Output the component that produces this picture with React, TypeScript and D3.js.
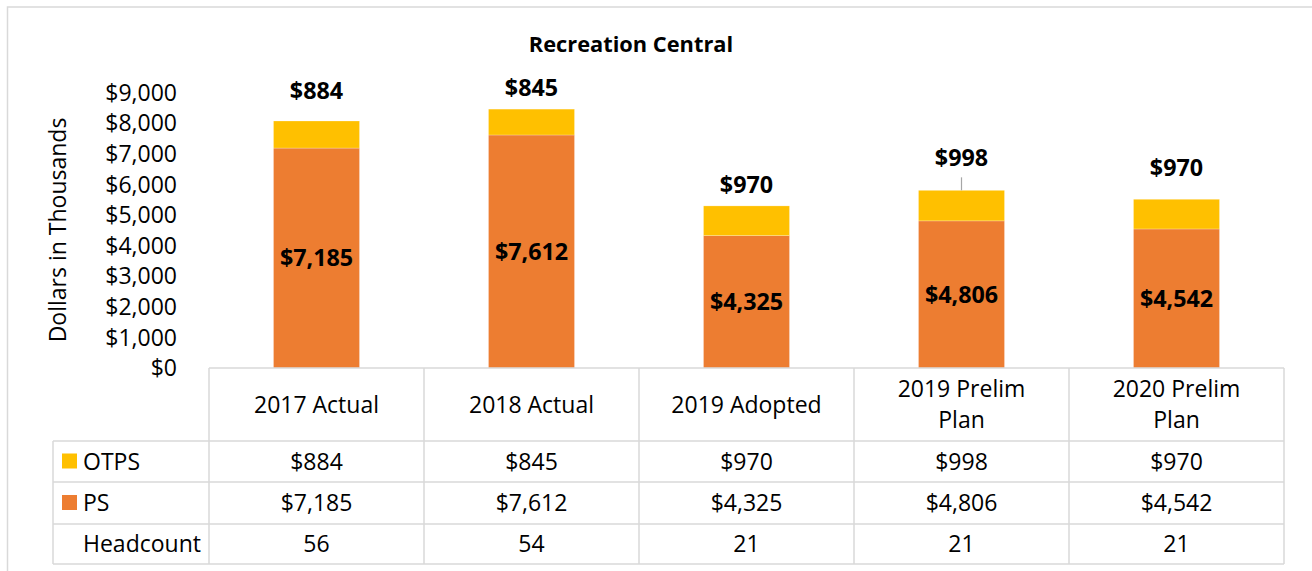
import React from "react";
import * as d3 from "d3";

const categories = ["2017 Actual", "2018 Actual", "2019 Adopted", "2019 Prelim Plan", "2020 Prelim Plan"];
const categoryLines = [["2017 Actual"], ["2018 Actual"], ["2019 Adopted"], ["2019 Prelim", "Plan"], ["2020 Prelim", "Plan"]];
const otpsValues = [884, 845, 970, 998, 970];
const psValues = [7185, 7612, 4325, 4806, 4542];
const headcountValues = [56, 54, 21, 21, 21];
const yTickValues = [0, 1000, 2000, 3000, 4000, 5000, 6000, 7000, 8000, 9000];
const seriesNames = ["PS", "OTPS"];
const chartTitle = "Recreation Central";
const yAxisTitle = "Dollars in Thousands";

// layout: baseline offset of top labels above the bar top, and leader-line flags
const topLabelOffsets = [22, 13, 13, 24, 23];
const leaderLines = [false, false, false, true, false];

const W = 1312;
const H = 571;
const FONT = "'Open Sans', 'Noto Sans', sans-serif";
const COLORS: Record<string, string> = { PS: "#ED7D31", OTPS: "#FFC000" };
const GRID = "#D9D9D9";
const FS = 23;

const fmt = (v: number) => "$" + d3.format(",")(v);

export default function App() {
  const tableLeft = 209;
  const tableRight = 1284;
  const legendLeft = 53;
  const y0 = 368;

  const x = d3.scaleBand<string>().domain(categories).range([tableLeft, tableRight]).paddingInner(0.6).paddingOuter(0.3);
  const y = d3.scaleLinear().domain([0, 9000]).range([y0, 92.5]);

  const rows = categories.map((c, i) => ({ cat: c, PS: psValues[i], OTPS: otpsValues[i] }));
  const stack = d3.stack<any>().keys(seriesNames)(rows);

  const step = x.step();
  const colLeft = (c: string) => (x(c) as number) - step * 0.3;

  const headerBottom = 441;
  const rowBounds = [441, 482, 524, 564];
  const rowLabels = [
    { name: "OTPS", color: COLORS.OTPS, values: otpsValues.map(fmt) },
    { name: "PS", color: COLORS.PS, values: psValues.map(fmt) },
    { name: "Headcount", color: null, values: headcountValues.map(String) },
  ];

  return (
    <div style={{ position: "absolute", left: 0, top: 0 }}>
      <svg width={W} height={H} style={{ display: "block", fontFamily: FONT }}>
        <rect x={0} y={0} width={W} height={H} fill="#fff" />
        <rect x={7.5} y={7} width={W + 20} height={H + 20} fill="none" stroke={GRID} strokeWidth={1.5} />

        <text x={631} y={52} textAnchor="middle" fontSize={21.8} fontWeight="bold" fill="#000">
          {chartTitle}
        </text>

        <text transform={`translate(66,230) rotate(-90)`} textAnchor="middle" fontSize={23} fill="#000">
          {yAxisTitle}
        </text>

        {yTickValues.map((t) => (
          <text key={t} x={177} y={y(t)} dy="0.36em" textAnchor="end" fontSize={FS} fill="#000">
            {fmt(t)}
          </text>
        ))}

        {stack.map((s) => (
          <g key={s.key}>
            {s.map((d, i) => (
              <rect
                key={i}
                x={x(categories[i])}
                y={y(d[1])}
                width={x.bandwidth()}
                height={y(d[0]) - y(d[1])}
                fill={COLORS[s.key]}
                stroke="#fff"
                strokeOpacity={0.4}
                strokeWidth={0.6}
              />
            ))}
          </g>
        ))}

        {categories.map((c, i) => {
          const cx = (x(c) as number) + x.bandwidth() / 2;
          const top = y(psValues[i] + otpsValues[i]);
          const mid = (y(0) + y(psValues[i])) / 2;
          const by = top - topLabelOffsets[i];
          return (
            <g key={c}>
              <text x={cx} y={mid} dy="0.36em" textAnchor="middle" fontSize={23.3} fontWeight="bold" fill="#000">
                {fmt(psValues[i])}
              </text>
              <text x={cx} y={by} textAnchor="middle" fontSize={23.3} fontWeight="bold" fill="#000">
                {fmt(otpsValues[i])}
              </text>
              {leaderLines[i] && <line x1={cx} x2={cx} y1={by + 11} y2={top} stroke="#A6A6A6" strokeWidth={1.2} />}
            </g>
          );
        })}

        {/* data table */}
        <g stroke={GRID} strokeWidth={1.5} fill="none">
          <line x1={tableLeft} x2={tableRight} y1={y0} y2={y0} />
          {rowBounds.map((b) => (
            <line key={b} x1={legendLeft} x2={tableRight} y1={b} y2={b} />
          ))}
          <line x1={legendLeft} x2={legendLeft} y1={headerBottom} y2={564} />
          {categories.map((c) => (
            <line key={c} x1={colLeft(c)} x2={colLeft(c)} y1={y0} y2={564} />
          ))}
          <line x1={tableRight} x2={tableRight} y1={y0} y2={564} />
        </g>

        {categories.map((c, i) => {
          const cx = (x(c) as number) + x.bandwidth() / 2;
          const lines = categoryLines[i];
          const midY = (y0 + headerBottom) / 2;
          return lines.map((ln, j) => (
            <text
              key={c + j}
              x={cx}
              y={midY + (j - (lines.length - 1) / 2) * 31}
              dy="0.36em"
              textAnchor="middle"
              fontSize={FS}
              fill="#000"
            >
              {ln}
            </text>
          ));
        })}

        {rowLabels.map((r, ri) => {
          const cy = (rowBounds[ri] + rowBounds[ri + 1]) / 2;
          return (
            <g key={r.name}>
              {r.color && <rect x={62} y={cy - 8} width={15} height={15} fill={r.color} />}
              <text x={83} y={cy} dy="0.36em" fontSize={FS} fill="#000">
                {r.name}
              </text>
              {categories.map((c, i) => (
                <text
                  key={c}
                  x={(x(c) as number) + x.bandwidth() / 2}
                  y={cy}
                  dy="0.36em"
                  textAnchor="middle"
                  fontSize={FS}
                  fill="#000"
                >
                  {r.values[i]}
                </text>
              ))}
            </g>
          );
        })}
      </svg>
    </div>
  );
}
